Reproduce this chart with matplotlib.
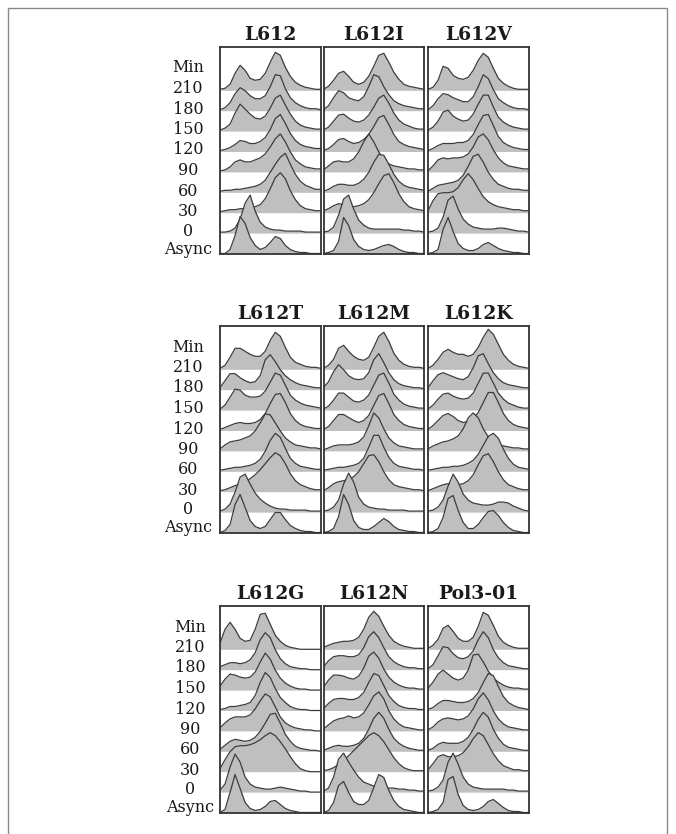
import numpy as np
import matplotlib.pyplot as plt
from matplotlib.transforms import blended_transform_factory
from matplotlib.patches import Rectangle

# row labels, bottom to top ("Min" is the column header)
times = ["Async", "0", "30", "60", "90", "120", "150", "180", "210"]
titles = ["L612", "L612I", "L612V", "L612T", "L612M", "L612K",
          "L612G", "L612N", "Pol3-01"]

# DNA-content histograms, heights at 21 channels
# rows: Async, 0, 30, 60, 90, 120, 150, 180, 210
l612 = [
    [0, 0, 4, 18, 37, 30, 16, 8, 4, 6, 11, 17, 15, 8, 4, 2, 1, 1, 0, 0, 0],
    [1, 1, 2, 5, 14, 30, 38, 22, 11, 6, 4, 3, 3, 2, 2, 2, 2, 1, 1, 1, 1],
    [1, 2, 3, 3, 4, 4, 5, 6, 8, 14, 24, 35, 40, 34, 22, 13, 7, 4, 3, 2, 2],
    [1, 2, 2, 3, 3, 4, 5, 6, 8, 12, 20, 28, 35, 39, 28, 18, 11, 7, 5, 3, 3],
    [1, 2, 5, 10, 12, 10, 10, 12, 14, 18, 25, 33, 38, 30, 20, 12, 8, 5, 4, 3, 3],
    [1, 2, 4, 7, 11, 10, 8, 8, 10, 14, 22, 33, 37, 28, 18, 11, 7, 5, 4, 3, 3],
    [1, 3, 7, 18, 27, 22, 17, 13, 12, 15, 23, 33, 36, 26, 17, 10, 6, 4, 3, 2, 2],
    [1, 3, 8, 17, 23, 20, 15, 12, 12, 15, 24, 36, 35, 22, 13, 8, 5, 3, 2, 2, 1],
    [1, 2, 6, 17, 25, 20, 12, 10, 11, 17, 28, 38, 35, 23, 14, 8, 5, 3, 2, 1, 1],
]
l612i = [
    [0, 1, 3, 12, 36, 28, 14, 7, 4, 3, 4, 6, 8, 9, 7, 4, 2, 1, 1, 0, 0],
    [1, 2, 6, 18, 34, 38, 24, 13, 8, 5, 4, 4, 4, 4, 4, 4, 3, 3, 2, 2, 1],
    [2, 4, 7, 9, 8, 7, 6, 7, 9, 13, 20, 29, 37, 39, 30, 19, 11, 6, 4, 3, 2],
    [1, 3, 6, 8, 8, 7, 7, 9, 13, 20, 30, 38, 37, 28, 18, 11, 7, 5, 4, 3, 2],
    [2, 6, 10, 11, 10, 10, 13, 20, 30, 38, 30, 20, 12, 8, 6, 5, 4, 3, 3, 2, 2],
    [1, 3, 7, 12, 13, 10, 8, 9, 12, 17, 25, 34, 36, 27, 17, 10, 7, 5, 4, 3, 2],
    [1, 4, 10, 16, 17, 13, 10, 9, 11, 16, 24, 33, 36, 28, 18, 11, 7, 5, 3, 2, 2],
    [1, 5, 13, 20, 18, 13, 11, 10, 14, 24, 36, 34, 24, 16, 10, 7, 5, 4, 3, 2, 2],
    [1, 4, 10, 17, 19, 14, 8, 6, 8, 14, 24, 35, 37, 28, 18, 11, 6, 4, 3, 2, 1],
]
l612v = [
    [0, 1, 4, 24, 36, 22, 10, 5, 3, 3, 5, 9, 11, 8, 5, 3, 2, 1, 1, 0, 0],
    [1, 2, 5, 16, 33, 37, 24, 14, 9, 6, 5, 4, 4, 4, 5, 5, 4, 3, 2, 2, 1],
    [2, 12, 19, 20, 20, 21, 25, 33, 39, 33, 24, 16, 11, 8, 6, 5, 4, 3, 3, 2, 2],
    [1, 4, 7, 8, 9, 10, 12, 17, 26, 36, 38, 30, 20, 13, 8, 6, 4, 3, 3, 2, 2],
    [1, 6, 12, 14, 13, 14, 14, 15, 18, 25, 35, 38, 32, 22, 14, 9, 6, 5, 4, 3, 3],
    [1, 3, 6, 8, 8, 8, 9, 9, 11, 17, 27, 36, 37, 26, 15, 9, 6, 4, 3, 2, 2],
    [1, 4, 10, 19, 21, 15, 12, 10, 11, 17, 27, 36, 36, 24, 14, 9, 6, 4, 3, 2, 2],
    [1, 5, 12, 17, 16, 13, 11, 9, 9, 14, 24, 36, 32, 21, 12, 8, 5, 3, 2, 2, 1],
    [1, 3, 10, 24, 22, 15, 12, 11, 13, 20, 30, 37, 33, 22, 12, 7, 4, 2, 1, 1, 1],
]
l612t = [
    [0, 2, 8, 28, 38, 25, 12, 6, 4, 6, 13, 20, 20, 13, 7, 4, 2, 1, 1, 0, 0],
    [1, 3, 8, 20, 35, 38, 28, 19, 13, 9, 6, 4, 3, 3, 2, 2, 2, 2, 1, 1, 1],
    [1, 2, 4, 6, 8, 10, 13, 17, 22, 28, 34, 39, 36, 28, 18, 11, 7, 5, 3, 2, 2],
    [1, 2, 3, 4, 4, 5, 6, 8, 12, 20, 31, 38, 34, 23, 13, 8, 5, 4, 3, 2, 2],
    [2, 6, 9, 10, 11, 13, 15, 20, 28, 37, 36, 28, 20, 13, 9, 6, 5, 4, 3, 3, 2],
    [1, 3, 5, 7, 8, 7, 7, 8, 11, 17, 27, 36, 37, 28, 17, 10, 6, 4, 3, 2, 2],
    [1, 5, 13, 21, 20, 15, 13, 13, 14, 19, 28, 37, 35, 25, 15, 10, 7, 5, 4, 3, 2],
    [2, 9, 16, 16, 12, 9, 7, 8, 14, 30, 35, 28, 20, 14, 10, 7, 5, 4, 3, 2, 2],
    [1, 4, 12, 21, 21, 18, 15, 13, 13, 18, 29, 37, 33, 22, 12, 7, 5, 3, 2, 2, 1],
]
l612m = [
    [0, 1, 4, 16, 38, 28, 12, 5, 3, 3, 6, 10, 14, 11, 6, 3, 2, 1, 1, 0, 0],
    [1, 2, 5, 12, 28, 39, 30, 15, 8, 5, 4, 3, 3, 2, 2, 2, 2, 1, 1, 1, 1],
    [1, 4, 8, 10, 11, 12, 15, 20, 28, 36, 37, 30, 20, 12, 7, 5, 4, 3, 2, 2, 1],
    [1, 2, 3, 4, 4, 5, 6, 8, 13, 24, 36, 36, 24, 14, 8, 5, 4, 3, 2, 2, 1],
    [1, 3, 5, 6, 6, 6, 7, 9, 14, 25, 38, 33, 22, 13, 8, 5, 4, 3, 2, 2, 2],
    [1, 4, 10, 16, 16, 13, 10, 8, 10, 15, 25, 35, 37, 27, 16, 10, 6, 4, 3, 2, 2],
    [1, 4, 10, 17, 17, 13, 9, 8, 10, 15, 25, 35, 37, 27, 16, 10, 6, 4, 3, 2, 2],
    [2, 8, 18, 25, 20, 14, 11, 10, 11, 17, 30, 36, 27, 17, 10, 6, 4, 3, 2, 2, 1],
    [1, 4, 10, 21, 24, 18, 13, 10, 9, 12, 22, 33, 37, 28, 16, 9, 5, 3, 2, 2, 1],
]
l612k = [
    [0, 1, 4, 15, 34, 37, 22, 10, 4, 4, 8, 15, 21, 22, 17, 10, 5, 2, 1, 0, 0],
    [1, 2, 5, 12, 26, 38, 30, 18, 12, 9, 8, 7, 7, 8, 10, 10, 9, 6, 4, 2, 1],
    [1, 3, 5, 7, 8, 7, 7, 8, 11, 17, 27, 36, 38, 30, 20, 12, 7, 5, 3, 2, 2],
    [1, 2, 3, 4, 4, 5, 5, 6, 8, 11, 17, 26, 35, 38, 33, 22, 13, 7, 4, 3, 2],
    [2, 5, 7, 9, 10, 12, 15, 22, 33, 38, 33, 22, 14, 9, 6, 5, 4, 3, 3, 2, 2],
    [1, 5, 10, 15, 17, 14, 10, 8, 9, 12, 18, 28, 38, 38, 28, 17, 10, 6, 4, 3, 2],
    [1, 5, 11, 16, 17, 14, 12, 11, 12, 17, 27, 37, 37, 27, 17, 11, 7, 5, 3, 2, 2],
    [2, 9, 15, 17, 15, 13, 11, 10, 13, 22, 34, 36, 26, 17, 11, 7, 5, 4, 3, 2, 2],
    [1, 4, 10, 17, 20, 17, 15, 15, 13, 15, 22, 32, 40, 35, 25, 15, 9, 5, 3, 2, 1],
]
l612g = [
    [0, 3, 20, 38, 24, 10, 4, 2, 3, 6, 11, 12, 8, 4, 2, 1, 0, 0, 0, 0, 0],
    [2, 8, 25, 38, 30, 15, 8, 5, 4, 3, 3, 4, 5, 4, 3, 2, 1, 1, 0, 0, 0],
    [3, 12, 20, 25, 26, 26, 27, 29, 32, 36, 39, 36, 30, 23, 15, 8, 3, 1, 0, 0, 0],
    [2, 6, 10, 12, 11, 10, 11, 14, 20, 28, 37, 38, 28, 17, 10, 5, 3, 2, 1, 1, 0],
    [3, 8, 12, 14, 14, 14, 16, 22, 30, 37, 34, 24, 14, 8, 5, 3, 2, 1, 1, 0, 0],
    [1, 2, 4, 4, 5, 6, 8, 15, 28, 38, 33, 22, 13, 8, 4, 2, 1, 1, 0, 0, 0],
    [4, 11, 16, 15, 13, 12, 13, 18, 28, 37, 31, 20, 12, 7, 4, 2, 1, 1, 0, 0, 0],
    [3, 5, 7, 7, 6, 7, 10, 17, 30, 37, 32, 20, 11, 6, 3, 2, 1, 1, 0, 0, 0],
    [6, 20, 27, 20, 11, 8, 9, 20, 35, 36, 25, 14, 8, 4, 2, 1, 0, 0, 0, 0, 0],
]
l612n = [
    [0, 2, 10, 27, 31, 20, 11, 8, 8, 12, 25, 38, 35, 22, 12, 6, 3, 2, 1, 0, 0],
    [1, 4, 15, 33, 39, 30, 22, 15, 10, 8, 6, 5, 4, 4, 4, 3, 3, 2, 2, 1, 1],
    [1, 2, 4, 7, 11, 16, 21, 26, 31, 36, 39, 36, 30, 22, 14, 8, 4, 2, 1, 1, 1],
    [1, 3, 5, 6, 5, 5, 6, 8, 13, 22, 33, 39, 33, 22, 13, 8, 5, 3, 2, 1, 1],
    [2, 6, 10, 12, 13, 15, 13, 14, 18, 26, 35, 39, 32, 20, 12, 7, 4, 3, 2, 1, 1],
    [2, 7, 11, 12, 12, 11, 11, 13, 18, 28, 37, 35, 25, 15, 9, 5, 3, 2, 2, 1, 1],
    [3, 10, 15, 15, 14, 12, 11, 14, 22, 34, 38, 32, 21, 13, 8, 5, 3, 2, 2, 1, 1],
    [3, 9, 13, 14, 14, 13, 13, 15, 22, 33, 38, 32, 22, 13, 8, 5, 3, 2, 2, 1, 1],
    [2, 4, 6, 7, 8, 8, 9, 12, 20, 32, 38, 33, 23, 14, 8, 5, 3, 2, 1, 1, 1],
]
pol3_01 = [
    [0, 1, 3, 10, 33, 36, 18, 7, 3, 2, 3, 6, 11, 13, 9, 5, 2, 1, 1, 0, 0],
    [1, 2, 5, 12, 30, 39, 28, 15, 8, 5, 4, 3, 3, 3, 3, 3, 2, 2, 1, 1, 1],
    [2, 8, 15, 17, 15, 15, 16, 19, 25, 33, 39, 36, 27, 18, 11, 6, 4, 2, 2, 1, 1],
    [1, 3, 7, 9, 8, 8, 8, 10, 14, 22, 32, 39, 34, 22, 13, 7, 4, 3, 2, 1, 1],
    [1, 4, 9, 12, 13, 12, 11, 12, 15, 22, 32, 38, 31, 20, 12, 7, 4, 3, 2, 1, 1],
    [1, 3, 7, 10, 10, 9, 8, 8, 9, 12, 18, 28, 37, 35, 24, 14, 8, 5, 3, 2, 1],
    [2, 8, 16, 20, 16, 12, 10, 12, 20, 35, 36, 28, 19, 12, 8, 5, 3, 2, 2, 1, 1],
    [1, 5, 14, 23, 22, 16, 12, 11, 13, 19, 30, 38, 32, 20, 12, 7, 4, 3, 2, 1, 1],
    [1, 4, 10, 21, 24, 18, 11, 8, 8, 12, 23, 37, 34, 24, 13, 7, 4, 2, 1, 1, 1],
]
panels = [l612, l612i, l612v, l612t, l612m, l612k, l612g, l612n, pol3_01]

channels = np.linspace(0, 100, 21)
FILL = "#bfbfbf"
LINE = "#3c3c3c"
W, H = 676, 834
STEP = 20.4

fig = plt.figure(figsize=(W / 100, H / 100), dpi=100)

lefts = [220, 323.5, 428]
tops = [47, 326, 606]
lab_x = [188, 188, 190]
lab_y = [0.5, 18.5, 38, 58.5, 79, 99.5, 120, 140.5, 161, 181.5]

for r in range(3):
    for c in range(3):
        k = r * 3 + c
        ax = fig.add_axes([lefts[c] / W, 1 - (tops[r] + 207) / H, 100.5 / W, 207 / H])
        data = panels[k]
        for i in range(len(times) - 1, -1, -1):
            base = 0.5 + STEP * i
            h = np.array(data[i], dtype=float)
            ax.fill_between(channels, base, base + h, color=FILL, lw=0,
                            zorder=2 * (10 - i))
            ax.plot(channels, base + h, color=LINE, lw=0.9, zorder=2 * (10 - i) + 1)
        ax.set_xlim(0, 100)
        ax.set_ylim(0, 207)
        ax.set_xticks([])
        ax.set_yticks([])
        for s in ax.spines.values():
            s.set_color("#333333")
            s.set_linewidth(1.3)
            s.set_zorder(40)
        ax.set_title(titles[k], fontfamily="DejaVu Serif", fontweight="bold",
                     fontsize=13.5, pad=5, color="#1a1a1a")
        if c == 0:
            tr = blended_transform_factory(ax.transAxes, ax.transData)
            xa = (lab_x[r] - lefts[0]) / 100.5
            for lab, yy in zip(times + ["Min"], lab_y):
                ax.text(xa, yy, lab, transform=tr, ha="center", va="baseline",
                        fontfamily="DejaVu Serif", fontsize=11.5, color="#1a1a1a")

fig.add_artist(Rectangle((8 / W, -0.05), (667 - 8) / W, 1 - 8 / H + 0.05,
                         transform=fig.transFigure, fill=False,
                         edgecolor="#8a8a8a", lw=1))

fig.savefig("out.png", dpi=100)
